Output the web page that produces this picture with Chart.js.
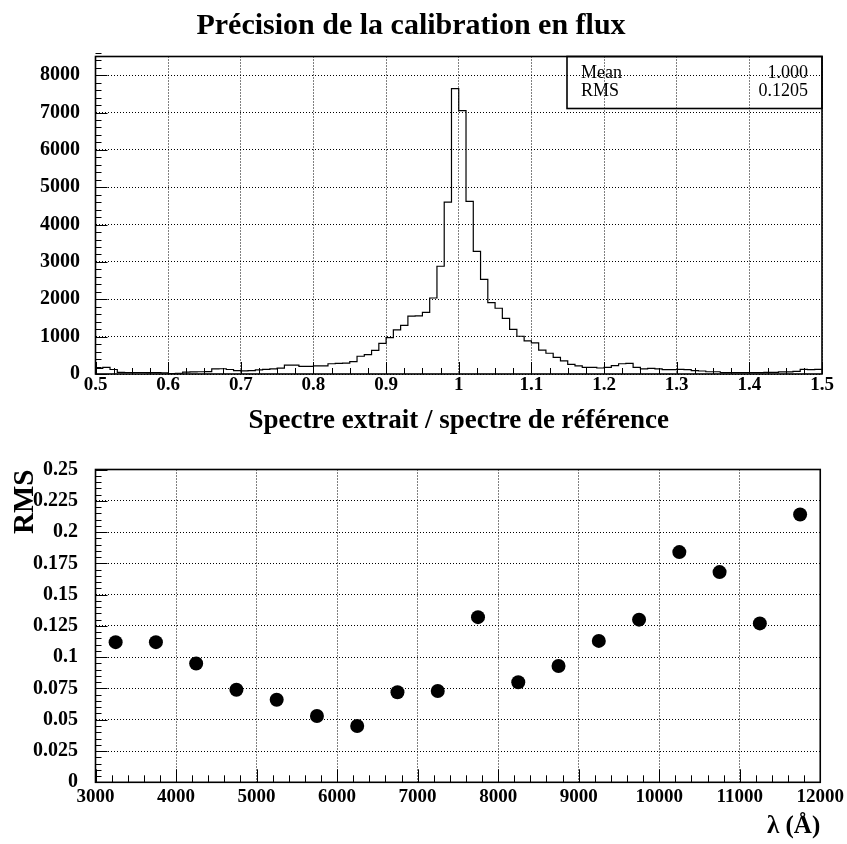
<!DOCTYPE html>
<html lang="fr">
<head>
<meta charset="utf-8">
<title>Précision de la calibration en flux</title>
<script src="https://cdn.jsdelivr.net/npm/chart.js@4.4.1/dist/chart.umd.min.js"></script>
<style>
  html, body { margin: 0; padding: 0; background: #fff; }
  #wrap { position: relative; width: 847px; height: 844px; }
  #wrap canvas { position: absolute; left: 0; }
  #histo { top: 0; }
  #rms { top: 440px; }
</style>
</head>
<body>
<div id="wrap">
  <canvas id="histo" width="847" height="440"></canvas>
  <canvas id="rms" width="847" height="404"></canvas>
</div>
<script>
// ratio histogram: 100 bins of width 0.01 starting at 0.5
var binStart = 0.5;
var binWidth = 0.01;
var counts = [
  150, 175, 120, 45, 40, 40, 40, 35, 35, 30,          // 0.50 - 0.59
  10, 20, 50, 55, 60, 65, 135, 140, 120, 90,          // 0.60 - 0.69
  85, 90, 110, 125, 135, 155, 235, 235, 205, 205,     // 0.70 - 0.79
  215, 220, 275, 285, 290, 330, 475, 520, 635, 820,   // 0.80 - 0.89
  975, 1180, 1300, 1550, 1555, 1650, 2035, 2885, 4600, 7640, // 0.90 - 0.99
  7050, 4620, 3285, 2535, 1910, 1760, 1490, 1195, 1010, 885, // 1.00 - 1.09
  835, 640, 555, 445, 350, 260, 215, 180, 180, 160,   // 1.10 - 1.19
  180, 225, 275, 285, 180, 135, 150, 135, 115, 115,   // 1.20 - 1.29
  125, 115, 90, 80, 60, 60, 35, 35, 35, 35,           // 1.30 - 1.39
  35, 35, 45, 45, 55, 55, 70, 125, 115, 125           // 1.40 - 1.49
];
var statLabels = ['Mean', 'RMS'];
var statValues = ['1.000', '0.1205'];
var ratioTicks = [0.5, 0.6, 0.7, 0.8, 0.9, 1, 1.1, 1.2, 1.3, 1.4, 1.5];
var countTicks = [0, 1000, 2000, 3000, 4000, 5000, 6000, 7000, 8000];

// RMS of the ratio per wavelength bin
var lambda = [3250, 3750, 4250, 4750, 5250, 5750, 6250, 6750, 7250,
              7750, 8250, 8750, 9250, 9750, 10250, 10750, 11250, 11750];
var rms = [0.112, 0.112, 0.095, 0.074, 0.066, 0.053, 0.045, 0.072, 0.073,
           0.132, 0.080, 0.093, 0.113, 0.130, 0.184, 0.168, 0.127, 0.214];
var lambdaTicks = [3000, 4000, 5000, 6000, 7000, 8000, 9000, 10000, 11000, 12000];
var rmsTicks = [0, 0.025, 0.05, 0.075, 0.1, 0.125, 0.15, 0.175, 0.2, 0.225, 0.25];

var serif = "'Liberation Serif', 'Times New Roman', Times, serif";
Chart.defaults.font.family = serif;
Chart.defaults.color = '#000';

// step outline: one point per bin lower edge, plus the closing upper edge
var histPoints = counts.map(function (c, i) {
  return { x: binStart + i * binWidth, y: c };
});
histPoints.push({ x: binStart + counts.length * binWidth, y: counts[counts.length - 1] });

function fixedTicks(list) {
  return function (scale) {
    scale.ticks = list.map(function (v) { return { value: v }; });
  };
}
function plain(v) { return String(v); }

var xTickFont = { family: serif, size: 19, weight: 'bold' };
var yTickFont = { family: serif, size: 20, weight: 'bold' };

// frame plus inward major/minor tick marks, ROOT style
var frameTicks = {
  id: 'frameTicks',
  afterDraw: function (chart, args, opts) {
    var ctx = chart.ctx, a = chart.chartArea;
    var sx = chart.scales.x, sy = chart.scales.y;
    ctx.save();
    ctx.strokeStyle = '#000';
    ctx.lineWidth = 1;
    ctx.beginPath();
    var n, i, v, p, major;
    n = Math.round((sx.max - sx.min) / opts.xStep);
    for (i = 0; i <= n; i++) {
      v = sx.min + i * opts.xStep;
      major = sx.ticks.some(function (t) { return Math.abs(t.value - v) < opts.xStep / 10; });
      p = Math.round(sx.getPixelForValue(v)) + 0.5;
      ctx.moveTo(p, a.bottom);
      ctx.lineTo(p, a.bottom - (major ? opts.xMajor : opts.xMinor));
    }
    n = Math.round((sy.max - sy.min) / opts.yStep);
    for (i = 0; i <= n; i++) {
      v = sy.min + i * opts.yStep;
      major = sy.ticks.some(function (t) { return Math.abs(t.value - v) < opts.yStep / 10; });
      p = Math.round(sy.getPixelForValue(v)) + 0.5;
      ctx.moveTo(a.left, p);
      ctx.lineTo(a.left + (major ? opts.yMajor : opts.yMinor), p);
    }
    ctx.stroke();
    ctx.lineWidth = 1.6;
    ctx.strokeRect(a.left, a.top, a.right - a.left, a.bottom - a.top);
    ctx.restore();
  }
};

// statistics box in the upper right corner (no fill, grid shows through)
var statsBox = {
  id: 'statsBox',
  afterDraw: function (chart) {
    var ctx = chart.ctx, a = chart.chartArea;
    var w = 255, h = 52, left = a.right - w, top = a.top;
    ctx.save();
    ctx.strokeStyle = '#000';
    ctx.lineWidth = 1.6;
    ctx.strokeRect(left, top, w, h);
    ctx.fillStyle = '#000';
    ctx.font = '18px ' + serif;
    ctx.textBaseline = 'alphabetic';
    statLabels.forEach(function (lab, i) {
      var y = top + 21 + i * 18.5;
      ctx.textAlign = 'left';
      ctx.fillText(lab, left + 14, y);
      ctx.textAlign = 'right';
      ctx.fillText(statValues[i], a.right - 14, y);
    });
    ctx.restore();
  }
};

var gridOpts = { color: '#000', lineWidth: 1, drawTicks: false };
var dotted = { display: false, dash: [1, 2] };

new Chart(document.getElementById('histo'), {
  type: 'line',
  data: {
    datasets: [{
      data: histPoints,
      stepped: true,
      borderColor: '#000',
      borderWidth: 1.2,
      pointRadius: 0,
      fill: false
    }]
  },
  options: {
    responsive: false,
    animation: false,
    layout: { padding: { left: 0, right: 25, top: 0, bottom: 0 } },
    plugins: {
      legend: { display: false },
      tooltip: { enabled: false },
      title: {
        display: true,
        text: 'Précision de la calibration en flux',
        color: '#000',
        font: { family: serif, size: 30, weight: 'bold' },
        padding: { top: 8, bottom: 12.5 }
      },
      frameTicks: { xStep: 0.025, xMajor: 12, xMinor: 6, yStep: 200, yMajor: 12, yMinor: 6 }
    },
    scales: {
      x: {
        type: 'linear',
        min: 0.5,
        max: 1.5,
        afterBuildTicks: fixedTicks(ratioTicks),
        afterFit: function (s) { s.height = 66; },
        grid: gridOpts,
        border: dotted,
        ticks: { font: xTickFont, padding: 0, maxRotation: 0, autoSkip: false, callback: plain },
        title: {
          display: true,
          text: 'Spectre extrait / spectre de référence',
          font: { family: serif, size: 27, weight: 'bold' },
          padding: { top: 0, bottom: 3 }
        }
      },
      y: {
        min: 0,
        max: 8500,
        afterBuildTicks: fixedTicks(countTicks),
        afterFit: function (s) { s.width = 95.5; },
        grid: gridOpts,
        border: dotted,
        ticks: { font: yTickFont, padding: 15.5, callback: plain }
      }
    }
  },
  plugins: [frameTicks, statsBox]
});

new Chart(document.getElementById('rms'), {
  type: 'scatter',
  data: {
    datasets: [{
      data: lambda.map(function (l, i) { return { x: l, y: rms[i] }; }),
      pointRadius: 7,
      pointBackgroundColor: '#000',
      pointBorderWidth: 0,
      showLine: false
    }]
  },
  options: {
    responsive: false,
    animation: false,
    layout: { padding: { left: 0, right: 25, top: 25, bottom: 0 } },
    plugins: {
      legend: { display: false },
      tooltip: { enabled: false },
      frameTicks: { xStep: 200, xMajor: 13, xMinor: 7, yStep: 0.005, yMajor: 12, yMinor: 6 }
    },
    scales: {
      x: {
        type: 'linear',
        min: 3000,
        max: 12000,
        afterBuildTicks: fixedTicks(lambdaTicks),
        afterFit: function (s) { s.height = 61.7; },
        grid: gridOpts,
        border: dotted,
        ticks: { font: xTickFont, padding: 3, maxRotation: 0, autoSkip: false, callback: plain },
        title: {
          display: true,
          align: 'end',
          text: 'λ (Å)',
          font: { family: serif, size: 25, weight: 'bold' },
          padding: { top: 0, bottom: 2 }
        }
      },
      y: {
        min: 0,
        max: 0.25,
        afterBuildTicks: fixedTicks(rmsTicks),
        afterFit: function (s) { s.width = 95.5; },
        grid: gridOpts,
        border: dotted,
        ticks: { font: yTickFont, padding: 17.5, callback: plain },
        title: {
          display: true,
          align: 'end',
          text: 'RMS',
          font: { family: serif, size: 29, weight: 'bold' },
          padding: { top: 7.8, bottom: 0 }
        }
      }
    }
  },
  plugins: [frameTicks]
});
</script>
</body>
</html>
